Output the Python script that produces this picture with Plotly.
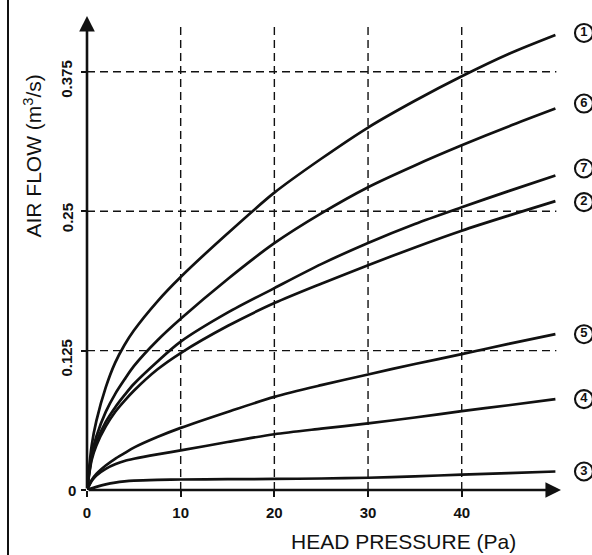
import plotly.graph_objects as go

# ---------------- data ----------------
PRESSURE = [0, 0.5, 1, 2, 3, 4, 5, 7.5, 10, 15, 20, 25, 30, 35, 40, 45, 50]

FLOW_1 = [0, 0.040, 0.062, 0.092, 0.114, 0.130, 0.143, 0.169, 0.191, 0.230, 0.2666, 0.297, 0.325, 0.349, 0.371, 0.391, 0.408]
FLOW_6 = [0, 0.032, 0.048, 0.070, 0.086, 0.099, 0.111, 0.134, 0.1535, 0.189, 0.2213, 0.248, 0.2715, 0.291, 0.309, 0.326, 0.342]
FLOW_7 = [0, 0.029, 0.043, 0.061, 0.074, 0.085, 0.095, 0.115, 0.133, 0.159, 0.181, 0.2025, 0.2215, 0.2385, 0.2535, 0.268, 0.282]
FLOW_2 = [0, 0.027, 0.040, 0.057, 0.070, 0.080, 0.089, 0.108, 0.1228, 0.147, 0.1676, 0.185, 0.2015, 0.2175, 0.2325, 0.246, 0.259]
FLOW_5 = [0, 0.009, 0.0145, 0.022, 0.028, 0.033, 0.038, 0.0475, 0.0557, 0.070, 0.0835, 0.094, 0.1036, 0.113, 0.1218, 0.131, 0.1397]
FLOW_4 = [0, 0.008, 0.013, 0.019, 0.023, 0.026, 0.028, 0.032, 0.0355, 0.043, 0.050, 0.055, 0.0597, 0.065, 0.0707, 0.076, 0.0815]
FLOW_3 = [0, 0.0015, 0.0028, 0.005, 0.0066, 0.0077, 0.0084, 0.0091, 0.0094, 0.0097, 0.0099, 0.0103, 0.0110, 0.0123, 0.0137, 0.0152, 0.0166]

CURVE_NAMES = ["1", "6", "7", "2", "5", "4", "3"]
CURVES = [FLOW_1, FLOW_6, FLOW_7, FLOW_2, FLOW_5, FLOW_4, FLOW_3]

X_TICKS = [0, 10, 20, 30, 40]
X_TICK_LABELS = ["0", "10", "20", "30", "40"]
Y_TICKS = [0, 0.125, 0.25, 0.375]
Y_TICK_LABELS = ["0", "0.125", "0.25", "0.375"]
X_GRID = [10, 20, 30, 40]
Y_GRID = [0.125, 0.25, 0.375]

X_TITLE = "HEAD PRESSURE (Pa)"
Y_TITLE = "AIR FLOW (m<sup>3</sup>/s)"

# ---------------- style / layout ----------------
W, H = 592, 555
MARGIN = dict(l=87, r=1, t=16, b=65)
X_RANGE = [0, 53.8]
Y_RANGE = [0, 0.425]
X_ARROW_TIP = 50.6
Y_ARROW_TIP = 0.425
GRID_TOP = 0.418
GRID_RIGHT = 50.1
FONT = "Liberation Sans, Arial, Helvetica, sans-serif"
INK = "#111111"
LABEL_X = 53.05
LABEL_NUDGE_PX = {"1": 2, "6": 5, "7": 7, "2": -1}

plot_w = W - MARGIN["l"] - MARGIN["r"]
plot_h = H - MARGIN["t"] - MARGIN["b"]
px_per_y = plot_h / (Y_RANGE[1] - Y_RANGE[0])

fig = go.Figure()

for name, ys in zip(CURVE_NAMES, CURVES):
    fig.add_trace(go.Scatter(
        x=PRESSURE, y=ys, mode="lines", name=name,
        line=dict(color=INK, width=2.7, shape="spline", smoothing=0.8),
        hoverinfo="skip", showlegend=False, cliponaxis=False,
    ))

# circled curve numbers at the right-hand end of each curve
label_y = [ys[-1] + LABEL_NUDGE_PX.get(n, 0) / px_per_y for n, ys in zip(CURVE_NAMES, CURVES)]
fig.add_trace(go.Scatter(
    x=[LABEL_X] * len(CURVE_NAMES), y=label_y, mode="markers+text",
    text=CURVE_NAMES, textposition="middle center",
    textfont=dict(family=FONT, size=13, color=INK, weight="bold"),
    marker=dict(symbol="circle-open", size=18, color=INK, line=dict(width=2.1, color=INK)),
    hoverinfo="skip", showlegend=False, cliponaxis=False,
))

shapes = []
for gx in X_GRID:
    shapes.append(dict(type="line", xref="x", yref="y", x0=gx, x1=gx, y0=0, y1=GRID_TOP,
                       line=dict(color=INK, width=1.4, dash="8px,5px"), layer="below"))
for gy in Y_GRID:
    shapes.append(dict(type="line", xref="x", yref="y", x0=0, x1=GRID_RIGHT, y0=gy, y1=gy,
                       line=dict(color=INK, width=1.4, dash="8px,5px"), layer="below"))
# left frame line of the figure
frame_x = (8 - MARGIN["l"]) / plot_w
shapes.append(dict(type="line", xref="paper", yref="paper",
                   x0=frame_x, x1=frame_x,
                   y0=-MARGIN["b"] / plot_h, y1=1 + MARGIN["t"] / plot_h,
                   line=dict(color=INK, width=2)))

annotations = []
# axis arrows
annotations.append(dict(x=X_ARROW_TIP, y=0, ax=0, ay=0, xref="x", yref="y", axref="x", ayref="y",
                        text="", showarrow=True, arrowhead=2, arrowsize=1.2, arrowwidth=2.6,
                        arrowcolor=INK, standoff=0))
annotations.append(dict(x=0, y=Y_ARROW_TIP, ax=0, ay=0, xref="x", yref="y", axref="x", ayref="y",
                        text="", showarrow=True, arrowhead=2, arrowsize=1.2, arrowwidth=2.6,
                        arrowcolor=INK, standoff=0))
# y tick labels
for v, lab in zip(Y_TICKS, Y_TICK_LABELS):
    if v == 0:
        annotations.append(dict(x=0, y=v, xref="x", yref="y", text=lab, showarrow=False,
                                xanchor="center", yanchor="middle", xshift=-15,
                                font=dict(family=FONT, size=15, color=INK, weight="bold")))
    else:
        annotations.append(dict(x=0, y=v, xref="x", yref="y", text=lab, showarrow=False,
                                textangle=-90, xanchor="center", yanchor="middle",
                                xshift=-20, yshift=-7,
                                font=dict(family=FONT, size=15, color=INK, weight="bold")))
# axis titles
annotations.append(dict(x=(403 - MARGIN["l"]) / plot_w, y=-0.108,
                        xref="paper", yref="paper", text=X_TITLE, showarrow=False,
                        xanchor="center", yanchor="middle",
                        font=dict(family=FONT, size=21, color=INK)))
annotations.append(dict(x=(32 - MARGIN["l"]) / plot_w,
                        y=(H - MARGIN["b"] - 156.5) / plot_h,
                        xref="paper", yref="paper", text=Y_TITLE, showarrow=False,
                        textangle=-90, xanchor="center", yanchor="middle",
                        font=dict(family=FONT, size=21, color=INK)))

fig.update_layout(
    width=W, height=H, margin=MARGIN,
    paper_bgcolor="white", plot_bgcolor="white",
    showlegend=False, shapes=shapes, annotations=annotations,
    xaxis=dict(range=X_RANGE, tickvals=X_TICKS, ticktext=X_TICK_LABELS,
               ticks="outside", ticklen=6, tickwidth=1.5, tickcolor=INK,
               ticklabelstandoff=3,
               showgrid=False, zeroline=False, showline=False,
               tickfont=dict(family=FONT, size=15, color=INK, weight="bold"), fixedrange=True),
    yaxis=dict(range=Y_RANGE, tickvals=Y_TICKS, ticks="outside", ticklen=5, tickwidth=1.5,
               tickcolor=INK, showticklabels=False,
               showgrid=False, zeroline=False, showline=False, fixedrange=True),
)

fig.write_html(
    "out.html",
    config={"displayModeBar": False},
    post_script="document.body.style.margin='0px';document.documentElement.style.overflow='hidden';",
)
